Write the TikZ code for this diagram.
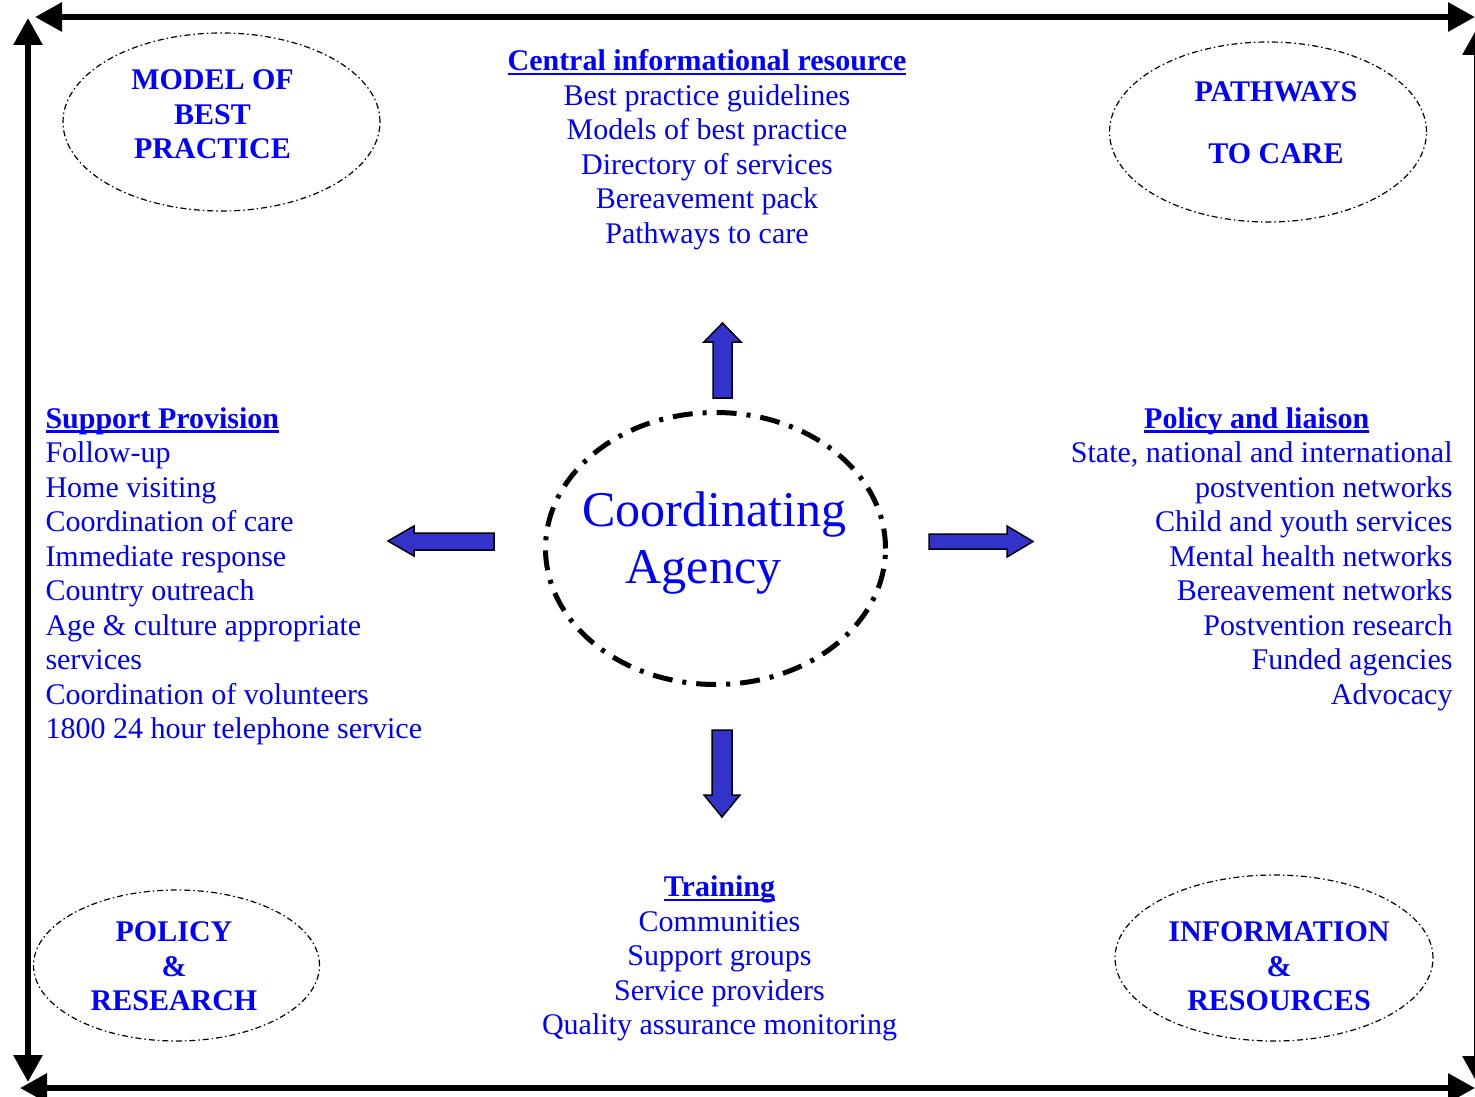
\documentclass[tikz,border=0pt]{standalone}
\usepackage{fontspec}
\setmainfont{Liberation Serif}
\usetikzlibrary{arrows.meta,shapes.geometric}
\definecolor{txtblue}{RGB}{0,0,255}
\definecolor{arrowblue}{RGB}{51,51,204}
% bold heading with a Word-style underline close to the baseline
\newsavebox\hdrbox
\newcommand\hdr[1]{\sbox\hdrbox{\bfseries #1}\rlap{\rule[-4.6pt]{\wd\hdrbox}{2.2pt}}\usebox\hdrbox}
\begin{document}
\begin{tikzpicture}[x=1pt,y=-1pt,
  txt/.style={text=txtblue, inner sep=0pt, font=\fontsize{30}{34.5}\selectfont},
  caps/.style={txt, font=\fontsize{30}{34.5}\selectfont\bfseries},
  oval/.style={draw, ellipse, inner sep=0pt, line width=1.2pt,
    dash pattern=on 6pt off 3pt on 1.5pt off 3pt},
  hub/.style={draw, ellipse, inner sep=0pt, line width=5pt,
    dash pattern=on 20pt off 10pt on 4pt off 10pt},
  blockarrow/.style={fill=arrowblue, draw=black, line width=1.5pt, line join=miter},
  border/.style={line width=6pt, >={Triangle[length=27pt,width=28pt]}, <->}
]
\useasboundingbox (0,0) rectangle (1475,1097);
\fill[white] (0,0) rectangle (1475,1097);

% frame of four double-headed arrows
\coordinate (topL) at (35,17);
\coordinate (topR) at (1475,17);
\coordinate (leftT) at (28,18);
\coordinate (leftB) at (28,1082);
\coordinate (botL) at (20,1088);
\coordinate (botR) at (1475,1088);
\coordinate (rightT) at (1477,28);
\coordinate (rightB) at (1477,1083);
\draw[border] (topL) -- (topR);
\draw[border] (leftT) -- (leftB);
\draw[border] (botL) -- (botR);
\draw[border] (rightT) -- (rightB);

% corner ovals
\node[oval, minimum width=317pt, minimum height=178pt] (bestoval) at (221.5,122) {};
\node[caps, anchor=base] (besttxt) at (212.5,90)
  {\begin{tabular}[t]{@{}c@{}}MODEL OF\\BEST\\PRACTICE\end{tabular}};
\node[oval, minimum width=317pt, minimum height=180pt] (pathoval) at (1268,132) {};
\node[caps, anchor=base] (pathtxt) at (1276,102)
  {\begin{tabular}[t]{@{}c@{}}PATHWAYS\\[27.5pt]TO CARE\end{tabular}};
\node[oval, minimum width=286pt, minimum height=151pt] (polloval) at (176.5,965.5) {};
\node[caps, anchor=base] (polltxt) at (174,941.5)
  {\begin{tabular}[t]{@{}c@{}}POLICY\\\&\\RESEARCH\end{tabular}};
\node[oval, minimum width=318pt, minimum height=166pt] (infooval) at (1274,958) {};
\node[caps, anchor=base] (infotxt) at (1279,941.5)
  {\begin{tabular}[t]{@{}c@{}}INFORMATION\\\&\\RESOURCES\end{tabular}};

% central agency
\node[hub, minimum width=340pt, minimum height=272pt] (hub) at (715.5,548.5) {};
\node[txt, anchor=base, font=\fontsize{50}{57.7}\selectfont] (hubtxt) at (714.5,526)
  {\begin{tabular}[t]{@{}c@{}}Coordinating\\Agency\hspace*{22pt}\end{tabular}};

% four functions
\node[txt, anchor=base] (central) at (707,70.8)
  {\begin{tabular}[t]{@{}c@{}}\hdr{Central informational resource}\\
   Best practice guidelines\\Models of best practice\\Directory of services\\
   Bereavement pack\\Pathways to care\end{tabular}};
\node[txt, anchor=base west] (support) at (45.3,428)
  {\begin{tabular}[t]{@{}l@{}}\hdr{Support Provision}\\Follow-up\\Home visiting\\
   Coordination of care\\Immediate response\\Country outreach\\
   Age \& culture appropriate\\services\\Coordination of volunteers\\
   1800 24 hour telephone service\end{tabular}};
\node[txt, anchor=base east] (policy) at (1452.7,428)
  {\begin{tabular}[t]{@{}r@{}}\multicolumn{1}{@{}c@{}}{\hdr{Policy and liaison}\hspace*{10pt}}\\
   State, national and international\\postvention networks\\
   Child and youth services\\Mental health networks\\Bereavement networks\\
   Postvention research\\Funded agencies\\Advocacy\end{tabular}};
\node[txt, anchor=base] (training) at (719.5,896.5)
  {\begin{tabular}[t]{@{}c@{}}\hdr{Training}\\Communities\\Support groups\\
   Service providers\\Quality assurance monitoring\end{tabular}};

% block arrows pointing out from the hub
\filldraw[blockarrow] (713,398) -- (713,342) -- (704,342) -- (722.5,323)
  -- (741,342) -- (732,342) -- (732,398) -- cycle;
\filldraw[blockarrow] (712,730) -- (712,795) -- (704,795) -- (722,817)
  -- (740,795) -- (732,795) -- (732,730) -- cycle;
\filldraw[blockarrow] (494,533) -- (414,533) -- (414,526) -- (388,541)
  -- (414,556) -- (414,550) -- (494,550) -- cycle;
\filldraw[blockarrow] (929,534) -- (1007,534) -- (1007,526) -- (1033,541.5)
  -- (1007,557) -- (1007,549) -- (929,549) -- cycle;
\end{tikzpicture}
\end{document}
